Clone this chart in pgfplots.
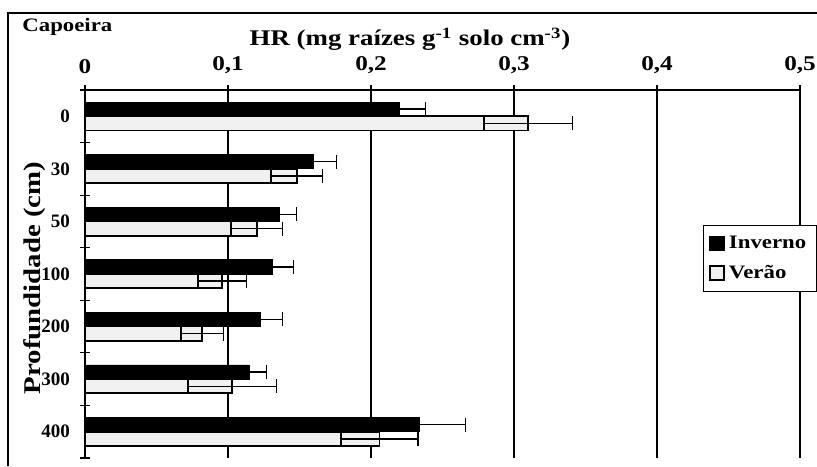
\documentclass[border=0pt]{standalone}
\usepackage{fontspec}
\setmainfont{Liberation Serif}
\newfontfamily\wf{Liberation Serif}[FakeStretch=1.2]
\usepackage{pgfplots}
\pgfplotsset{compat=1.18}
\pgfplotstableread{
y val err
6 0.220 0.018
5 0.160 0.016
4 0.136 0.012
3 0.131 0.015
2 0.123 0.015
1 0.115 0.012
0 0.234 0.032
}\inverno
\pgfplotstableread{
y val err
6 0.310 0.031
5 0.148 0.018
4 0.120 0.018
3 0.096 0.017
2 0.082 0.015
1 0.103 0.031
0 0.206 0.027
}\verao
\begin{document}
\begin{tikzpicture}[x=1pt,y=1pt]
\draw[line width=0.6pt] (4,0) -- (4,226.5) -- (408.5,226.5);
\begin{axis}[
  at={(42.5pt,4pt)}, anchor=south west,
  scale only axis, width=357.5pt, height=184pt,
  xbar, bar width=0.27,
  xmin=0, xmax=0.5, ymin=-0.5, ymax=6.5,
  axis x line*=top, axis y line*=left,
  axis line style={line width=0.6pt},
  clip=false,
  tick align=center, major tick length=5pt,
  tick style={black, line width=0.6pt},
  xtick={0,0.1,0.2,0.3,0.4,0.5},
  xticklabels={0,{0,1},{0,2},{0,3},{0,4},{0,5}},
  xticklabel style={font=\wf\bfseries\fontsize{10.5}{10.5}\selectfont, yshift=2pt},
  xmajorgrids, grid style={black, line width=0.6pt},
  ytick={-0.5,0.5,1.5,2.5,3.5,4.5,5.5,6.5},
  yticklabels={},
  extra y ticks={0,1,2,3,4,5,6},
  extra y tick labels={400,300,200,100,50,30,0},
  extra y tick style={major tick length=0pt,
    yticklabel style={font=\bfseries\fontsize{9.5}{9.5}\selectfont, anchor=east, xshift=-4pt}},
  legend style={at={(0.864,0.633)}, anchor=north west, draw=black, line width=0.6pt,
    font=\wf\bfseries\fontsize{9.5}{9.5}\selectfont, row sep=3pt, inner sep=3pt,
    cells={anchor=west}},
  legend image code/.code={\draw[#1, line width=0.8pt] (0pt,-3.5pt) rectangle (7pt,3.5pt);},
  error bars/error bar style={black, line width=0.7pt},
  error bars/error mark=|,
  error bars/error mark options={black, line width=0.7pt, mark size=3.5pt},
]
\addplot+[draw=black, fill=black, bar shift=0.135,
  error bars/.cd, x dir=plus, x explicit]
  table[x=val, y=y, x error=err] {\inverno};
\addlegendentry{Inverno}
\addplot+[draw=black, fill=gray!12, line width=0.9pt, bar shift=-0.135,
  error bars/.cd, x dir=both, x explicit]
  table[x=val, y=y, x error=err] {\verao};
\addlegendentry{Verão}
\draw[line width=0.6pt] (axis cs:0,-0.5) -- (axis cs:0,6.5);
\end{axis}
\node[anchor=base west, inner sep=0pt, font=\wf\bfseries\fontsize{9.5}{9.5}\selectfont] at (11,217) {Capoeira};
\node[anchor=base, font=\wf\bfseries\fontsize{11.2}{11.2}\selectfont] at (205,210) {HR (mg raízes g\textsuperscript{-1} solo cm\textsuperscript{-3})};
\node[rotate=90, font=\wf\bfseries\fontsize{12}{12}\selectfont] at (17.5,94) {Profundidade (cm)};
\pgfresetboundingbox
\useasboundingbox (0,0) rectangle (408.5,233);
\end{tikzpicture}
\end{document}
